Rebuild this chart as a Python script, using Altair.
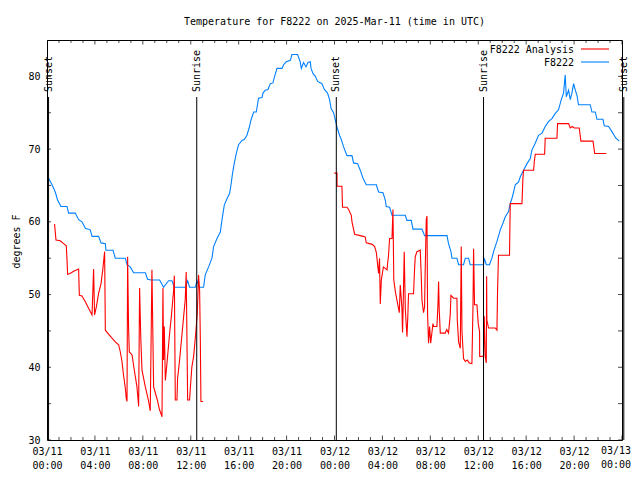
import altair as alt
import pandas as pd

title_text = "Temperature for F8222 on 2025-Mar-11 (time in UTC)"
y_title = "degrees F"
series_names = ["F8222 Analysis", "F8222"]
series_colors = ["#ff0000", "#0080ff"]

# hours since 2025-03-11 00:00 UTC
blue_hours = [0.13, 0.42, 0.69, 0.88, 1.17, 1.67, 1.80, 2.36, 2.64, 2.92, 3.20, 3.61, 3.76, 4.31,
              4.51, 4.87, 4.92, 5.51, 5.70, 6.54, 6.68, 6.95, 7.23, 8.21, 8.40, 8.68, 9.40, 9.73,
              10.15, 10.43, 10.63, 11.54, 11.74, 11.90, 12.38, 12.52, 12.71, 13.07, 13.21, 13.49,
              13.77, 13.91, 14.19, 14.47, 14.61, 14.80, 15.03, 15.24, 15.36, 15.49, 15.63, 15.80,
              15.99, 16.28, 16.47, 16.69, 16.89, 17.03, 17.25, 17.47, 17.66, 17.95, 18.03, 18.22,
              18.45, 18.64, 18.86, 19.00, 19.20, 19.62, 19.75, 19.97, 20.31, 20.45, 20.92, 21.14,
              21.23, 21.42, 21.62, 21.79, 21.98, 22.04, 22.20, 22.40, 22.59, 22.95, 23.15, 23.42,
              23.59, 23.71, 23.92, 24.07, 24.21, 24.42, 24.57, 24.76, 25.04, 25.46, 25.59, 25.93,
              26.15, 26.38, 26.65, 27.49, 27.68, 28.05, 28.24, 28.32, 28.60, 28.80, 29.91, 30.05,
              30.41, 30.55, 31.30, 31.52, 33.39, 33.52, 33.72, 33.81, 34.22, 34.36, 34.77, 34.92,
              35.19, 35.33, 36.44, 36.50, 36.67, 36.94, 37.14, 37.28, 37.56, 37.84, 38.06, 38.26,
              38.53, 38.67, 38.81, 38.95, 39.09, 39.37, 39.51, 39.78, 40.07, 40.34, 40.48, 40.76,
              41.03, 41.32, 41.59, 41.87, 42.15, 42.43, 42.70, 42.93, 43.12, 43.26, 43.35, 43.54,
              43.68, 43.82, 43.96, 44.10, 44.24, 44.37, 45.35, 45.49, 45.77, 45.91, 46.41, 46.52,
              46.88, 47.16, 47.49, 47.77]
blue_temps = [66.0, 65.1, 64.1, 63.0, 62.1, 62.1, 61.2, 61.2, 60.3, 60.0, 59.1, 58.9, 58.0, 58.0,
              57.1, 57.0, 56.1, 56.1, 55.0, 55.0, 54.1, 53.8, 53.0, 53.0, 52.1, 52.0, 52.0, 51.0,
              51.9, 51.9, 51.0, 51.0, 51.9, 51.0, 51.0, 51.9, 51.0, 51.0, 52.7, 53.8,
              55.0, 56.6, 57.7, 58.6, 60.3, 62.3, 63.2, 63.9, 65.1, 66.7, 68.0, 69.4,
              70.6, 71.2, 71.3, 71.9, 73.0, 74.0, 75.1, 75.1, 77.0, 77.1, 77.7, 78.1,
              78.2, 79.0, 79.1, 80.0, 81.1, 81.1, 81.6, 82.0, 82.2, 83.0, 83.0, 82.0,
              81.1, 81.9, 81.3, 81.9, 82.0, 81.1, 80.4, 80.0, 79.3, 79.0, 78.2, 77.7,
              76.8, 75.6, 75.0, 74.0, 73.0, 71.9, 71.3, 70.3, 69.1, 69.1, 68.1, 68.0,
              67.1, 66.0, 65.1, 65.1, 64.1, 64.0, 63.0, 62.1, 62.0, 60.9, 60.9, 60.2,
              60.2, 59.0, 59.0, 58.1, 58.1, 57.0, 55.9, 55.0, 55.0, 54.1, 54.1, 55.0,
              55.0, 54.1, 54.1, 55.0, 54.1, 54.1, 55.0, 55.9, 57.3, 58.9, 59.8, 60.7,
              61.4, 62.5, 63.2, 64.1, 65.1, 65.5, 66.2, 67.1, 68.0, 68.7, 69.9, 70.8,
              71.9, 72.2, 73.1, 73.8, 74.2, 74.9, 75.4, 76.8, 77.7, 80.2, 77.2, 78.1,
              76.8, 77.7, 79.0, 78.1, 77.4, 76.1, 76.1, 75.1, 75.1, 74.1, 74.1, 73.2,
              73.1, 72.4, 71.5, 71.1]

red1_hours = [0.63, 0.75, 1.11, 1.39, 1.61, 1.67, 1.72, 1.94, 2.22, 2.64, 2.70, 2.92, 3.20, 3.47,
              3.76, 3.89, 3.97, 4.12, 4.31, 4.51, 4.66, 4.81, 4.87, 5.12, 5.37, 5.70, 5.98, 6.12,
              6.26, 6.39, 6.54, 6.62, 6.68, 6.73, 6.81, 6.87, 7.10, 7.25, 7.51, 7.65, 7.73, 7.83,
              7.93, 8.21, 8.46, 8.62, 8.76, 8.90, 9.04, 9.21, 9.37, 9.60, 9.68, 9.73, 9.79, 9.88,
              10.04, 10.21, 10.38, 10.57, 10.63, 10.71, 10.85, 10.90, 11.04, 11.21, 11.38, 11.54,
              11.62, 11.74, 11.90, 11.96, 12.09, 12.24, 12.38, 12.55, 12.65, 12.74, 12.80, 12.85,
              13.02]
red1_temps = [59.7, 57.5, 57.4, 57.0, 56.7, 54.8, 52.8, 52.9, 53.2, 53.5, 49.9, 49.8, 49.0, 48.1,
              47.2, 53.5, 47.2, 48.3, 50.2, 51.5, 53.5, 55.9, 45.1, 44.6, 44.1, 43.5, 43.1, 42.1,
              40.8, 38.9, 37.1, 35.7, 35.3, 55.2, 45.4, 42.1, 41.7, 40.0, 37.3, 34.6, 50.9, 44.0,
              39.6, 37.3, 35.5, 34.0, 53.4, 37.3, 36.5, 35.5, 34.3, 33.2, 50.9, 41.0, 45.6, 38.2,
              41.0, 44.2, 47.0, 50.6, 52.6, 35.5, 35.5, 38.5, 40.5, 43.5, 46.5, 49.3,
              53.1, 35.5, 35.5, 37.0, 40.0, 41.5, 44.0, 47.5, 52.7, 50.6, 43.8, 35.3,
              35.3]

red2_hours = [23.98, 24.21, 24.21, 24.62, 24.67, 25.04, 25.18, 25.40, 25.46, 25.68, 26.15, 26.40,
              26.57, 26.65, 27.15, 27.35, 27.49, 27.68, 27.76, 27.82, 27.91, 28.08, 28.24, 28.38,
              28.51, 28.60, 28.80, 28.88, 28.95, 29.07, 29.24, 29.41, 29.49, 29.63, 29.68, 29.74,
              29.82, 29.91, 30.05, 30.12, 30.18, 30.60, 30.66, 30.74, 30.88, 31.16, 31.24, 31.30,
              31.43, 31.52, 31.57, 31.66, 31.72, 31.77, 31.85, 31.94, 32.03, 32.22, 32.28, 32.55,
              32.64, 32.69, 32.74, 32.83, 33.24, 33.37, 33.52, 33.66, 33.72, 33.94, 34.22, 34.25,
              34.36, 34.50, 34.58, 34.64, 34.77, 34.92, 35.08, 35.25, 35.47, 35.56, 35.61, 35.69,
              35.89, 36.00, 36.11, 36.12, 36.44, 36.50, 36.58, 36.67, 36.70, 36.72, 36.86, 37.42,
              37.56, 37.61, 37.69, 38.61, 38.67, 39.65, 39.73, 39.78, 40.62, 40.68, 40.76, 41.54,
              41.59, 42.57, 42.62, 43.54, 43.68, 43.85, 44.01, 44.24, 44.43, 44.57, 45.58, 45.72,
              46.69]
red2_temps = [66.7, 66.7, 64.9, 64.9, 62.0, 62.0, 61.7, 60.9, 60.0, 58.3, 58.1, 58.0,
              57.9, 57.1, 56.9, 56.6, 55.8, 52.9, 55.0, 48.7, 52.0, 53.8, 53.6, 53.4,
              55.4, 57.7, 57.7, 61.7, 52.0, 50.5, 49.0, 47.5, 51.3, 48.1, 44.8, 49.0,
              55.9, 48.0, 44.2, 47.0, 50.1, 50.1, 52.7, 55.2, 55.9, 56.1, 52.7, 49.3,
              47.5, 48.3, 53.3, 60.3, 60.8, 47.4, 43.3, 45.6, 43.3, 46.0, 45.6, 45.6,
              48.8, 51.8, 48.0, 44.7, 44.7, 45.2, 44.7, 47.2, 49.9, 49.5, 49.5, 46.5,
              43.5, 42.6, 56.6, 45.0, 41.2, 40.8, 41.0, 40.6, 40.5, 48.3, 56.3, 48.6,
              48.6, 46.0, 44.9, 41.5, 41.5, 47.0, 41.5, 40.6, 52.5, 46.5, 45.4, 45.4,
              45.1, 50.3, 55.4, 55.4, 62.5, 62.5, 66.0, 67.1, 67.1, 68.3, 69.3, 69.3,
              71.5, 71.5, 73.5, 73.5, 72.9, 73.1, 72.9, 72.9, 72.9, 71.1, 71.1, 69.4,
              69.4]

sun_hours = [0.13, 12.50, 24.15, 36.44, 48.15]
sun_labels = ["Sunset", "Sunrise", "Sunset", "Sunrise", "Sunset"]

x_label_hours = list(range(0, 49, 4))
x_tick_hours = list(range(0, 49))
y_tick_values = list(range(30, 86, 5))

FONT = "DejaVu Sans Mono"
W, H = 575, 400

rows = []
for i, (h, t) in enumerate(zip(blue_hours, blue_temps)):
    rows.append({"hour": h, "temp": t, "series": "F8222", "seg": "b", "idx": i})
for i, (h, t) in enumerate(zip(red1_hours, red1_temps)):
    rows.append({"hour": h, "temp": t, "series": "F8222 Analysis", "seg": "r1", "idx": i})
for i, (h, t) in enumerate(zip(red2_hours, red2_temps)):
    rows.append({"hour": h, "temp": t, "series": "F8222 Analysis", "seg": "r2", "idx": i})
df = pd.DataFrame(rows)

sun_df = pd.DataFrame({"hour": sun_hours, "label": sun_labels})
xt_df = pd.DataFrame({"hour": x_tick_hours,
                      "len": [9 if h % 4 == 0 else 6 for h in x_tick_hours]})
yt_df = pd.DataFrame({"temp": y_tick_values})
last_df = pd.DataFrame({"hour": [x_label_hours[-1]]})

xscale = alt.Scale(domain=[0, 48], nice=False, zero=False)
yscale = alt.Scale(domain=[30, 85], nice=False, zero=False)

label_expr = ("datum.value >= 48 ? '' : ['03/' + (11 + floor(datum.value / 24)), "
              "(datum.value % 24 < 10 ? '0' : '') + (datum.value % 24) + ':00']")

x_axis = alt.Axis(values=x_label_hours, labelExpr=label_expr, title=None, ticks=False,
                  domain=False, grid=False, labelFlush=False, labelOverlap=False,
                  labelPadding=6, labelLineHeight=14, labelFont=FONT, labelFontSize=10,
                  labelColor="black", labelBaseline="top")
y_axis = alt.Axis(values=y_tick_values, title=y_title, ticks=False, domain=False, grid=False,
                  labelPadding=7, labelFont=FONT, labelFontSize=10, labelColor="black",
                  titleFont=FONT, titleFontSize=10, titleFontWeight="normal", titleColor="black",
                  titleX=-26, titleY=201, titleAngle=270, titleAlign="center",
                  titleBaseline="bottom", labelFlush=False)

lines = alt.Chart(df).mark_line(strokeWidth=1.1, clip=True).encode(
    x=alt.X("hour:Q", scale=xscale, axis=x_axis),
    y=alt.Y("temp:Q", scale=yscale, axis=y_axis),
    color=alt.Color("series:N", scale=alt.Scale(domain=series_names, range=series_colors),
                    legend=None),
    detail="seg:N",
    order="idx:Q",
)

# last x label (03/13 00:00) kept inside the page edge
last_label = alt.Chart(last_df).transform_calculate(
    lab="'03/' + (11 + floor(datum.hour / 24)) + '\\n' + "
        "(datum.hour % 24 < 10 ? '0' : '') + (datum.hour % 24) + ':00'"
).mark_text(align="right", baseline="top", font=FONT, fontSize=10, color="black",
            lineBreak="\n", lineHeight=14).encode(
    x=alt.value(W + 9), y=alt.value(H + 6), text="lab:N")

sun_rules = alt.Chart(sun_df).mark_rule(color="black", strokeWidth=1).encode(
    x=alt.X("hour:Q", scale=xscale),
    y=alt.value(57), y2=alt.value(H),
)
sun_text = alt.Chart(sun_df).mark_text(angle=270, align="left", baseline="middle",
                                       font=FONT, fontSize=10, color="black").encode(
    x=alt.X("hour:Q", scale=xscale),
    y=alt.value(52),
    text="label:N",
)

xt_bottom = alt.Chart(xt_df).mark_tick(orient="vertical", clip=True, color="black",
                                       thickness=1).encode(
    x=alt.X("hour:Q", scale=xscale), y=alt.value(H), size=alt.Size("len:Q", scale=None))
xt_top = alt.Chart(xt_df).mark_tick(orient="vertical", clip=True, color="black",
                                    thickness=1).encode(
    x=alt.X("hour:Q", scale=xscale), y=alt.value(0), size=alt.Size("len:Q", scale=None))
yt_left = alt.Chart(yt_df).mark_tick(orient="horizontal", clip=True, color="black",
                                     thickness=1, size=8).encode(
    y=alt.Y("temp:Q", scale=yscale), x=alt.value(0))
yt_right = alt.Chart(yt_df).mark_tick(orient="horizontal", clip=True, color="black",
                                      thickness=1, size=8).encode(
    y=alt.Y("temp:Q", scale=yscale), x=alt.value(W))

leg_df = pd.DataFrame({"name": series_names})
leg_text1 = alt.Chart(leg_df).transform_filter(alt.datum.name == series_names[0]).mark_text(
    align="right", baseline="middle", font=FONT, fontSize=10, color="black").encode(
    x=alt.value(527), y=alt.value(9.5), text="name:N")
leg_text2 = alt.Chart(leg_df).transform_filter(alt.datum.name == series_names[1]).mark_text(
    align="right", baseline="middle", font=FONT, fontSize=10, color="black").encode(
    x=alt.value(527), y=alt.value(22.5), text="name:N")
leg_line1 = alt.Chart(leg_df).transform_filter(alt.datum.name == series_names[0]).mark_rule(
    color=series_colors[0], strokeWidth=1.1).encode(
    x=alt.value(534), x2=alt.value(562), y=alt.value(9))
leg_line2 = alt.Chart(leg_df).transform_filter(alt.datum.name == series_names[1]).mark_rule(
    color=series_colors[1], strokeWidth=1.1).encode(
    x=alt.value(534), x2=alt.value(562), y=alt.value(22))

chart = alt.layer(
    lines, sun_rules, sun_text, xt_bottom, xt_top, yt_left, yt_right,
    leg_text1, leg_text2, leg_line1, leg_line2, last_label,
).properties(
    width=W, height=H,
    title=alt.TitleParams(title_text, font=FONT, fontSize=10, fontWeight="normal",
                          color="black", anchor="middle", offset=13),
    padding={"left": 39, "top": 32, "right": 10, "bottom": 32},
    autosize=alt.AutoSizeParams(type="none"),
    background="white",
).configure_view(stroke="black", strokeWidth=1)

chart.save("out.html", embed_options={"renderer": "svg", "actions": False})
